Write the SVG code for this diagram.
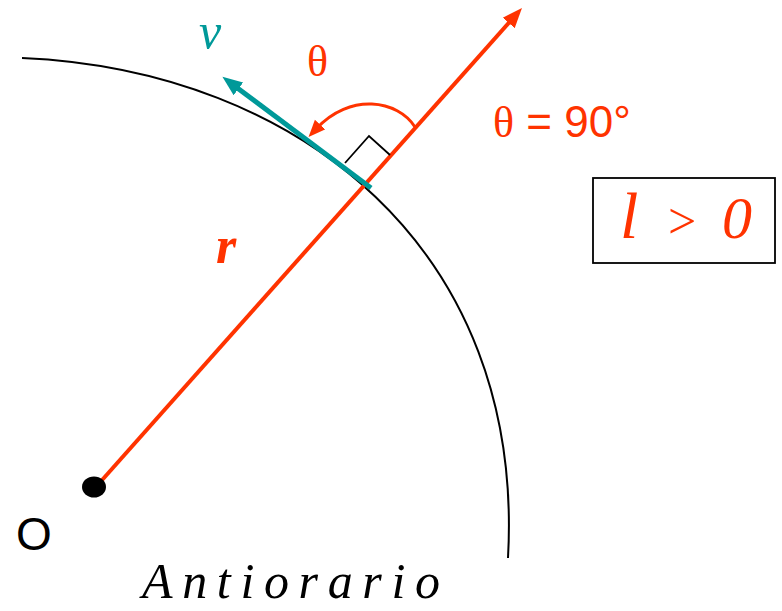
<svg xmlns="http://www.w3.org/2000/svg" width="782" height="611" viewBox="0 0 782 611">
<style>
.red{fill:#FF3300}
.teal{fill:#009999}
.serif{font-family:"Liberation Serif","Times New Roman",serif}
.sans{font-family:"Liberation Sans",Arial,sans-serif}
.it{font-style:italic}
</style>
<defs>
<marker id="hr" markerUnits="userSpaceOnUse" markerWidth="24" markerHeight="18" refX="8" refY="8" orient="auto" viewBox="0 0 24 16">
<path d="M0,0 L20,8 L0,16 z" fill="#FF3300"/>
</marker>
<marker id="ht" markerUnits="userSpaceOnUse" markerWidth="24" markerHeight="18" refX="8" refY="8" orient="auto" viewBox="0 0 24 16">
<path d="M0,0 L20,8 L0,16 z" fill="#009999"/>
</marker>
<marker id="hc" markerUnits="userSpaceOnUse" markerWidth="20" markerHeight="16" refX="6" refY="7" orient="auto" viewBox="0 0 20 14">
<path d="M0,0 L17,7 L0,14 z" fill="#FF3300"/>
</marker>
</defs>
<rect width="782" height="611" fill="#fff"/>
<g id="arc">
<path d="M22,58 C300,70 525,250 508,558" fill="none" stroke="#000" stroke-width="2"/>
</g>
<g id="connectors">
<line id="r-vector" x1="95" y1="488" x2="514" y2="17" stroke="#FF3300" stroke-width="4" marker-end="url(#hr)"/>
<line id="v-vector" x1="371" y1="188" x2="232" y2="84" stroke="#009999" stroke-width="5" marker-end="url(#ht)"/>
<path id="theta-arrow" d="M415,127 C398,100 350,92 316,129" fill="none" stroke="#FF3300" stroke-width="3" marker-end="url(#hc)"/>
<polyline id="right-angle" points="345,163 369,136 390,155" fill="none" stroke="#000" stroke-width="1.8"/>
</g>
<g id="origin">
<ellipse cx="94" cy="487" rx="12" ry="10.5" fill="#000"/>
<text x="16" y="550" class="sans" font-size="46" fill="#000">O</text>
</g>
<g id="labels">
<text x="199" y="48" class="serif it teal" font-size="50">v</text>
<text x="307" y="76" class="serif red" font-size="44">θ</text>
<text x="493" y="137" class="red" font-size="44"><tspan class="serif">θ</tspan><tspan class="sans"> = 90°</tspan></text>
<text x="216" y="263" class="serif it red" font-size="52" font-weight="bold">r</text>
<text x="142" y="598" class="serif it" font-size="50" fill="#000" textLength="298" lengthAdjust="spacing">Antiorario</text>
</g>
<g id="condition-box">
<rect x="593" y="178" width="182" height="85" fill="none" stroke="#000" stroke-width="1.8"/>
<text x="620" y="238" class="serif it red" font-size="66">l</text>
<text x="668" y="238" class="serif red" font-size="50">&gt;</text>
<text x="722" y="238" class="serif it red" font-size="60">0</text>
</g>
</svg>
